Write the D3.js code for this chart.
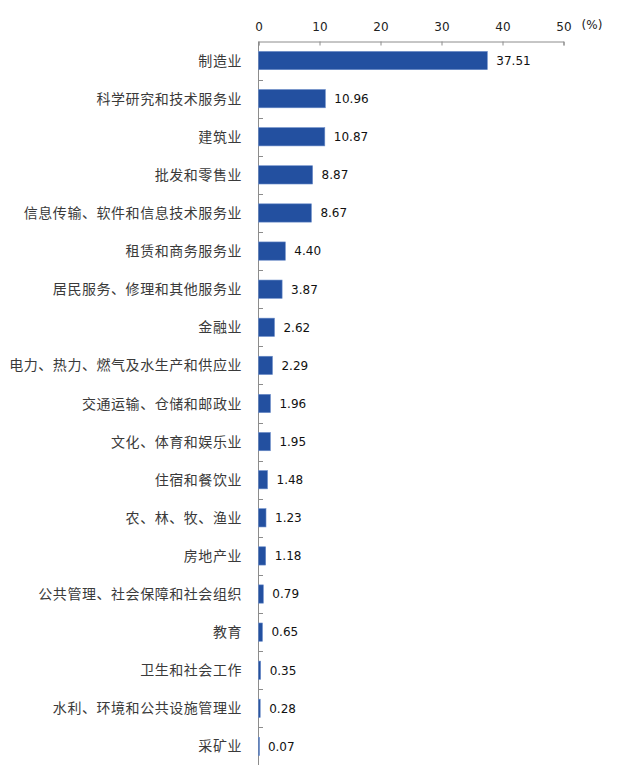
<!DOCTYPE html>
<html><head><meta charset="utf-8">
<script src="https://cdn.jsdelivr.net/npm/d3@7"></script>
<style>body{margin:0;background:#fff}svg{display:block}</style>
</head><body><svg id="c" width="622" height="765"></svg>
<script>
const categories = ["制造业","科学研究和技术服务业","建筑业","批发和零售业","信息传输、软件和信息技术服务业","租赁和商务服务业","居民服务、修理和其他服务业","金融业","电力、热力、燃气及水生产和供应业","交通运输、仓储和邮政业","文化、体育和娱乐业","住宿和餐饮业","农、林、牧、渔业","房地产业","公共管理、社会保障和社会组织","教育","卫生和社会工作","水利、环境和公共设施管理业","采矿业"];
const values = [37.51,10.96,10.87,8.87,8.67,4.40,3.87,2.62,2.29,1.96,1.95,1.48,1.23,1.18,0.79,0.65,0.35,0.28,0.07];
const xTicks = [0,10,20,30,40,50];
const unitLabel = "(%)";

const svg = d3.select("#c");
const x = d3.scaleLinear().domain([0,50]).range([258.5,563.5]);
const y = d3.scaleBand().domain(categories).range([41.5,765.5]).paddingInner(0.52).paddingOuter(0.26);
const axisColor = "#8c8c8c";

const xa = svg.append("g").attr("transform","translate(0,41.5)")
  .call(d3.axisTop(x).tickValues(xTicks).tickSize(-4).tickPadding(12).tickSizeOuter(-4));
xa.select(".domain").attr("stroke",axisColor);
xa.selectAll(".tick line").attr("stroke",axisColor);
xa.selectAll(".tick text").attr("font-family","'DejaVu Sans', Verdana, sans-serif").attr("font-size",12).attr("fill","#222").attr("dy","0.1em");
svg.append("text").attr("x",592).attr("y",29).attr("text-anchor","middle")
  .attr("font-family","'DejaVu Sans', sans-serif").attr("font-size",12).attr("fill","#222").text(unitLabel);

// y axis line and boundary ticks
svg.append("line").attr("x1",258.5).attr("x2",258.5).attr("y1",41.5).attr("y2",765).attr("stroke",axisColor);
const bounds = d3.range(1,categories.length).map(i => 41.5 + i*(724/categories.length));
svg.selectAll(".yt").data(bounds).join("line").attr("x1",258.5).attr("x2",263).attr("y1",d=>Math.round(d)+0.5).attr("y2",d=>Math.round(d)+0.5).attr("stroke",axisColor);

svg.selectAll(".bar").data(categories).join("rect")
  .attr("x",x(0)).attr("y",d=>y(d)).attr("width",(d,i)=>Math.max(1,x(values[i])-x(0))).attr("height",y.bandwidth())
  .attr("fill","#2350a0").attr("stroke","#6b8cc8").attr("stroke-width",0.6);

svg.selectAll(".val").data(categories).join("text")
  .attr("x",(d,i)=>x(values[i])+9).attr("y",d=>y(d)+y.bandwidth()/2).attr("dy","0.36em")
  .attr("font-family","'DejaVu Sans', Verdana, sans-serif").attr("font-size",12).attr("fill","#111")
  .text((d,i)=>values[i].toFixed(2));

svg.selectAll(".cat").data(categories).join("text")
  .attr("x",242).attr("y",d=>y(d)+y.bandwidth()/2).attr("dy","0.36em").attr("text-anchor","end")
  .attr("font-family","'Noto Sans CJK SC', sans-serif").attr("font-size",14).attr("letter-spacing","0.55px").attr("fill","#3a3a3a")
  .text(d=>d);
</script></body></html>
